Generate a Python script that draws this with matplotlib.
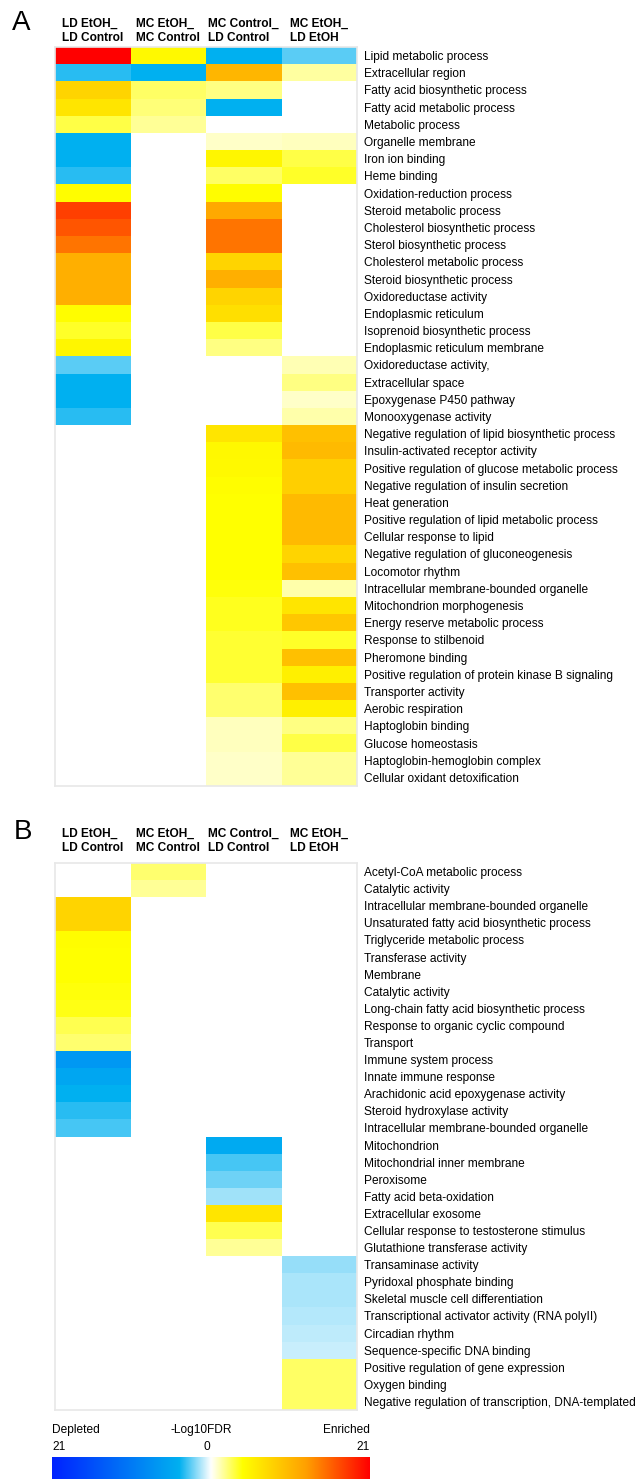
import numpy as np
import matplotlib
matplotlib.use('Agg')
import matplotlib.pyplot as plt
from matplotlib.colors import LinearSegmentedColormap, Normalize

plt.rcParams['font.family'] = ['Liberation Sans', 'DejaVu Sans']

nan = np.nan

comparisons = ['LD EtOH_\nLD Control', 'MC EtOH_\nMC Control',
               'MC Control_\nLD Control', 'MC EtOH_\nLD EtOH']

# ---- Panel A : signed -log10 FDR (negative = depleted) ----
terms_a = [
    'Lipid metabolic process', 'Extracellular region', 'Fatty acid biosynthetic process',
    'Fatty acid metabolic process', 'Metabolic process', 'Organelle membrane',
    'Iron ion binding', 'Heme binding', 'Oxidation-reduction process',
    'Steroid metabolic process', 'Cholesterol biosynthetic process', 'Sterol biosynthetic process',
    'Cholesterol metabolic process', 'Steroid biosynthetic process', 'Oxidoreductase activity',
    'Endoplasmic reticulum', 'Isoprenoid biosynthetic process', 'Endoplasmic reticulum membrane',
    'Oxidoreductase activity,', 'Extracellular space', 'Epoxygenase P450 pathway',
    'Monooxygenase activity', 'Negative regulation of lipid biosynthetic process',
    'Insulin-activated receptor activity', 'Positive regulation of glucose metabolic process',
    'Negative regulation of insulin secretion', 'Heat generation',
    'Positive regulation of lipid metabolic process', 'Cellular response to lipid',
    'Negative regulation of gluconeogenesis', 'Locomotor rhythm',
    'Intracellular membrane-bounded organelle', 'Mitochondrion morphogenesis',
    'Energy reserve metabolic process', 'Response to stilbenoid', 'Pheromone binding',
    'Positive regulation of protein kinase B signaling', 'Transporter activity',
    'Aerobic respiration', 'Haptoglobin binding', 'Glucose homeostasis',
    'Haptoglobin-hemoglobin complex', 'Cellular oxidant detoxification',
]
ld_etoh_ld_ctrl_a = [21, -3.6, 7.9, 6.4, 3.1, -4.2, -4.2, -3.6, 4.3, 17.6, 16.5, 14.8, 11.2,
                     11.2, 11.2, 4.3, 3.6, 5.0, -2.7, -4.2, -4.2, -3.6,
                     nan, nan, nan, nan, nan, nan, nan, nan, nan, nan, nan, nan, nan, nan,
                     nan, nan, nan, nan, nan, nan, nan]
mc_etoh_mc_ctrl_a = [4.6, -4.2, 2.5, 2.2, 1.7] + [nan] * 38
mc_ctrl_ld_ctrl_a = [-4.2, 10.5, 2.1, -4.2, nan, 0.9, 5.0, 2.5, 4.3, 11.7, 14.8, 14.8, 7.9,
                     11.2, 7.9, 6.9, 3.1, 2.1, nan, nan, nan, nan,
                     6.4, 4.9, 4.6, 4.3, 4.2, 4.2, 4.2, 4.2, 4.2, 4.0, 3.7, 3.7, 3.4, 3.4,
                     3.3, 2.3, 2.3, 1.1, 1.1, 0.9, 0.9]
mc_etoh_ld_etoh_a = [-2.7, 1.6, nan, nan, nan, 1.1, 3.1, 3.6, nan, nan, nan, nan, nan, nan,
                     nan, nan, nan, nan, 1.3, 2.1, 0.9, 1.4,
                     9.8, 10.2, 8.4, 8.4, 10.2, 10.2, 10.2, 7.9, 9.8, 1.4, 6.4, 9.1, 3.6,
                     9.8, 5.5, 9.8, 5.5, 2.0, 3.1, 1.7, 1.7]

# ---- Panel B ----
terms_b = [
    'Acetyl-CoA metabolic process', 'Catalytic activity',
    'Intracellular membrane-bounded organelle', 'Unsaturated fatty acid biosynthetic process',
    'Triglyceride metabolic process', 'Transferase activity', 'Membrane', 'Catalytic activity',
    'Long-chain fatty acid biosynthetic process', 'Response to organic cyclic compound',
    'Transport', 'Immune system process', 'Innate immune response',
    'Arachidonic acid epoxygenase activity', 'Steroid hydroxylase activity',
    'Intracellular membrane-bounded organelle', 'Mitochondrion', 'Mitochondrial inner membrane',
    'Peroxisome', 'Fatty acid beta-oxidation', 'Extracellular exosome',
    'Cellular response to testosterone stimulus', 'Glutathione transferase activity',
    'Transaminase activity', 'Pyridoxal phosphate binding',
    'Skeletal muscle cell differentiation', 'Transcriptional activator activity (RNA polyII)',
    'Circadian rhythm', 'Sequence-specific DNA binding', 'Positive regulation of gene expression',
    'Oxygen binding', 'Negative regulation of transcription, DNA-templated',
]
ld_etoh_ld_ctrl_b = [nan, nan, 7.9, 7.9, 4.3, 4.2, 4.2, 4.0, 3.8, 2.9, 2.3,
                     -6.9, -5.4, -4.2, -3.6, -3.0] + [nan] * 16
mc_etoh_mc_ctrl_b = [2.3, 1.7] + [nan] * 30
mc_ctrl_ld_ctrl_b = [nan] * 16 + [-4.8, -3.0, -2.3, -1.6, 6.4, 2.8, 1.7] + [nan] * 9
mc_etoh_ld_etoh_b = [nan] * 23 + [-1.7, -1.45, -1.4, -1.3, -1.1, -0.9, 2.6, 2.6, 2.6]

# diverging scale used by both panels and the colour bar
fdr_max = 21
cmap = LinearSegmentedColormap.from_list('fdr', [
    (0.0, '#0022ff'), (0.4, '#00b0f0'), (0.5, '#ffffff'),
    (0.6, '#ffff00'), (0.8, '#ffa000'), (1.0, '#ff0000')])
norm = Normalize(-fdr_max, fdr_max)

FS = 8.6
W, H = 638, 1479
fig = plt.figure(figsize=(W / 100, H / 100), dpi=100)


def px_axes(x0, y0, x1, y1):
    return fig.add_axes([x0 / W, 1 - y1 / H, (x1 - x0) / W, (y1 - y0) / H])


def draw_panel(ax, terms, cols, head_gap):
    data = np.array(cols, dtype=float).T
    ax.pcolormesh(np.ma.masked_invalid(data), cmap=cmap, norm=norm)
    ax.set_xlim(0, 4)
    ax.set_ylim(len(terms), 0)
    ax.set_xticks([])
    ax.set_yticks(np.arange(len(terms)) + 0.5, terms)
    ax.yaxis.tick_right()
    ax.tick_params(axis='y', length=0, pad=5, labelsize=FS)
    for s in ax.spines.values():
        s.set_color('#e8e8e8')
        s.set_linewidth(1.2)
    for j, name in enumerate(comparisons):
        ax.text(j + 0.5, -head_gap, name, ha='center', va='baseline', multialignment='left',
                fontweight='bold', fontsize=FS)


ax_a = px_axes(55, 47, 357, 786)
draw_panel(ax_a, terms_a, [ld_etoh_ld_ctrl_a, mc_etoh_mc_ctrl_a, mc_ctrl_ld_ctrl_a, mc_etoh_ld_etoh_a], 0.35)
fig.text(12 / W, 1 - 23 / H, 'A', fontsize=20, va='center')

ax_b = px_axes(55, 863, 357, 1410)
draw_panel(ax_b, terms_b, [ld_etoh_ld_ctrl_b, mc_etoh_mc_ctrl_b, mc_ctrl_ld_ctrl_b, mc_etoh_ld_etoh_b], 0.7)
fig.text(14 / W, 1 - 832 / H, 'B', fontsize=20, va='center')

# colour bar along the bottom edge
cax = px_axes(52, 1457, 370, 1482)
cax.imshow(np.linspace(-fdr_max, fdr_max, 512)[None, :], cmap=cmap, norm=norm,
           aspect='auto', extent=[-fdr_max, fdr_max, 0, 1])
cax.axis('off')
for x, y, s, ha in [(52, 1430, 'Depleted', 'left'), (201, 1430, '-Log10FDR', 'center'),
                    (370, 1430, 'Enriched', 'right'), (52, 1447, str(fdr_max), 'left'),
                    (207, 1447, '0', 'center'), (370, 1447, str(fdr_max), 'right')]:
    fig.text(x / W, 1 - y / H, s, ha=ha, va='center', fontsize=FS)

fig.savefig('out.png', dpi=100)
